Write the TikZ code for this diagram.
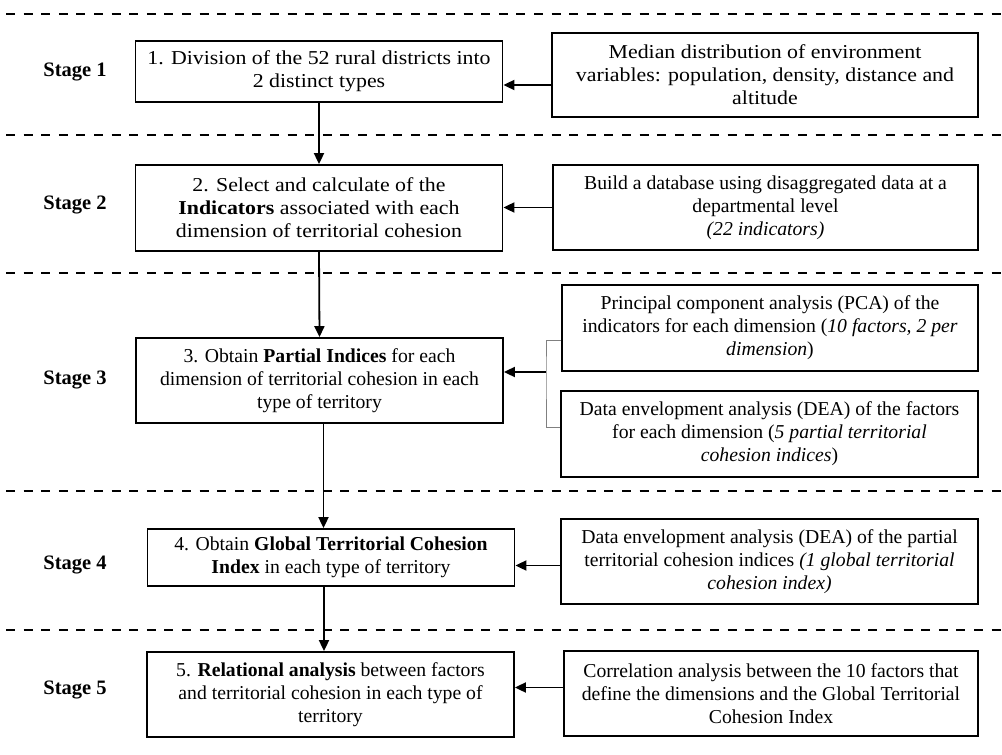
\documentclass[tikz,border=0pt]{standalone}
\usepackage{fontspec}
\setmainfont{Liberation Serif}
\newfontfamily\widefont[FakeStretch=1.11]{Liberation Serif}
\usetikzlibrary{positioning,arrows.meta,calc}

\begin{document}
\begin{tikzpicture}[
  x=1pt, y=-1pt,
  box/.style={rectangle, draw, line width=1.8pt, align=center, inner sep=2pt,
    font=\fontsize{19.7}{23}\selectfont},
  widebox/.style={font=\fontsize{19.7}{23}\selectfont\widefont},
  stagebox/.style={box, minimum width=367pt},
  infobox/.style={box, minimum height=85pt},
  stagelbl/.style={font=\fontsize{20.5}{23}\selectfont\bfseries},
  arrow/.style={-{Triangle[length=11pt,width=10pt]}, line width=1.8pt},
  bracket/.style={draw=gray, line width=1pt},
  sep/.style={line width=2pt, dash pattern=on 9pt off 8.6pt},
]
\useasboundingbox (0,0) rectangle (1002,755);

% === stage separators ===
\foreach \y in {14,135,273,491,630}
  \draw[sep] (6,\y) -- (1002,\y);

% === stage labels ===
\node[stagelbl] (s1) at (75,72)  {Stage 1};
\node[stagelbl] (s2) at (75,205) {Stage 2};
\node[stagelbl] (s3) at (75,380) {Stage 3};
\node[stagelbl] (s4) at (75,565) {Stage 4};
\node[stagelbl] (s5) at (75,690) {Stage 5};

% === main steps (left column) ===
\node[stagebox, widebox, minimum height=61pt] (b1) at (319,71.5)
  {1. Division of the 52 rural districts into\\2 distinct types};
\node[stagebox, widebox, minimum height=86pt] (b2) at (319,208)
  {2. Select and calculate of the\\\textbf{Indicators} associated with each\\dimension of territorial cohesion};
\node[stagebox, minimum height=85pt] (b3) at (319.5,380.5)
  {3. Obtain \textbf{Partial Indices} for each\\dimension of territorial cohesion in each\\type of territory};
\node[stagebox, minimum height=57pt] (b4) at (331,557.5)
  {4. Obtain \textbf{Global Territorial Cohesion}\\\textbf{Index} in each type of territory};
\node[stagebox, minimum height=85pt] (b5) at (330.5,694.5)
  {5. \textbf{Relational analysis} between factors\\and territorial cohesion in each type of\\territory};

% === inputs / methods (right column) ===
\node[infobox, widebox, minimum width=426pt, minimum height=84pt] (r1) at (765,75)
  {Median distribution of environment\\variables: population, density, distance and\\altitude};
\node[infobox, minimum width=425pt] (r2) at (765.5,207.5)
  {Build a database using disaggregated data at a\\departmental level\\\textit{(22 indicators)}};
\node[infobox, minimum width=416pt, minimum height=86pt] (r3a) at (770,328)
  {Principal component analysis (PCA) of the\\indicators for each dimension (\textit{10 factors, 2 per}\\\textit{dimension})};
\node[infobox, minimum width=417pt, minimum height=86pt] (r3b) at (769.5,434)
  {Data envelopment analysis (DEA) of the factors\\for each dimension (\textit{5 partial territorial}\\\textit{cohesion indices})};
\node[infobox, minimum width=417pt] (r4) at (769.5,561.5)
  {Data envelopment analysis (DEA) of the partial\\territorial cohesion indices \textit{(1 global territorial}\\\textit{cohesion index)}};
\node[infobox, minimum width=414pt] (r5) at (771,693.5)
  {Correlation analysis between the 10 factors that\\define the dimensions and the Global Territorial\\Cohesion Index};

% === flow between stages ===
\draw[arrow] (b1.south) -- (b2.north);
\draw[arrow] (b2.south) -- (b3.north);
\draw[arrow] ([xshift=4]b3.south) -- ([xshift=4]b3.south |- b4.north);
\draw[arrow] ([xshift=-7]b4.south) -- ([xshift=-7]b4.south |- b5.north);

% === inputs into each stage ===
\coordinate (brk) at (546,372);
\draw[arrow] ([yshift=-10]r1.west) -- ([yshift=-10]r1.west -| b1.east);
\draw[arrow] (r2.west) -- (r2.west -| b2.east);
\draw[bracket] ([yshift=-12]r3a.west) -| (brk) |- ([yshift=7]r3b.west);
\draw[arrow] (brk) -- (brk -| b3.east);
\draw[arrow] ([yshift=-4]r4.west) -- ([yshift=-4]r4.west -| b4.east);
\draw[arrow] ([yshift=6]r5.west) -- ([yshift=6]r5.west -| b5.east);
\end{tikzpicture}
\end{document}
